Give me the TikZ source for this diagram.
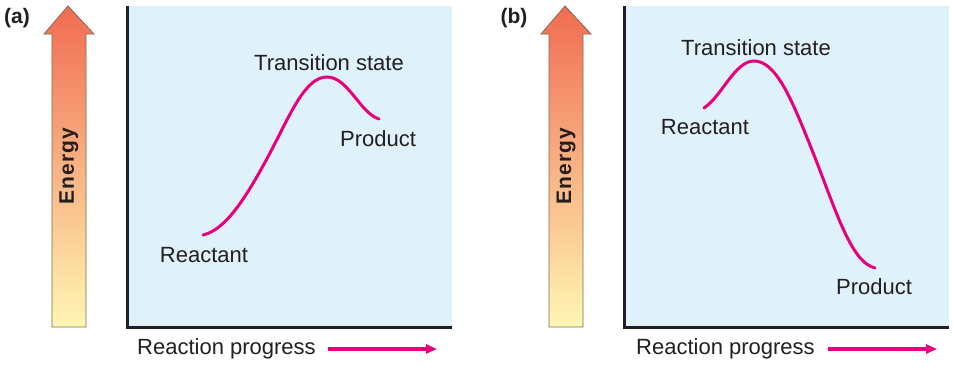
\documentclass[tikz,border=0pt]{standalone}
\usepackage{fontspec}
\setmainfont{Liberation Sans}
\usetikzlibrary{arrows.meta}
\definecolor{boxblue}{RGB}{223,241,251}
\definecolor{curvemag}{RGB}{230,0,126}
\definecolor{axisdark}{RGB}{35,31,32}
\definecolor{entop}{RGB}{241,108,80}
\definecolor{enmid}{RGB}{249,176,122}
\definecolor{enbot}{RGB}{255,246,180}
\definecolor{enedge}{RGB}{125,105,90}
\tikzset{
  lbl/.style={font=\fontsize{22}{26}\selectfont, text=axisdark, inner sep=0pt},
  panellbl/.style={font=\fontsize{21}{24}\selectfont\bfseries, text=axisdark, inner sep=0pt},
  energylbl/.style={font=\fontsize{21}{24}\selectfont\bfseries\addfontfeature{LetterSpace=5}, text=axisdark, inner sep=0pt, rotate=90},
  energyarrow/.style={draw=enedge, line width=0.8pt, top color=entop, middle color=enmid, bottom color=enbot},
  plotbox/.style={fill=boxblue},
  axisline/.style={draw=axisdark, line width=3pt},
  curve/.style={draw=curvemag, line width=3pt, line cap=round},
  progarrow/.style={draw=curvemag, line width=3.4pt, -{Triangle[length=11pt,width=9pt]}}
}
\begin{document}
\begin{tikzpicture}[x=1pt,y=-1pt]
\useasboundingbox (0,0) rectangle (954,367);
% ---------- common parts, panel a and b ----------
\foreach \dx/\tag in {0/a,497/b}{
  \begin{scope}[xshift=\dx pt]
    \node[panellbl] (lbl\tag) at (17,18) {(\tag)};
    \path[energyarrow] (68,6) -- (94,34) -- (86,34) -- (86,327) -- (52,327) -- (52,34) -- (44,34) -- cycle;
    \node[energylbl] (energy\tag) at (69,166) {Energy};
    \fill[plotbox] (127,6) rectangle (452,327);
    \coordinate (top\tag) at (127,6);
    \coordinate (origin\tag) at (127,327);
    \coordinate (right\tag) at (452,327);
    \draw[axisline] (top\tag) -- (origin\tag) -- (right\tag);
  \end{scope}
}
% ---------- panel a ----------
\node[lbl] (tsa) at (329,63) {Transition state};
\node[lbl] (proda) at (378,139) {Product};
\node[lbl] (reaca) at (204,255) {Reactant};
\node[lbl, anchor=west] (rpa) at (137,349) {Reaction progress};
\coordinate (pas) at (328,349);
\coordinate (pae) at (437,349);
\draw[progarrow] (pas) -- (pae);
\coordinate (ra) at (203,235);
\coordinate (ma) at (270,153);
\coordinate (pka) at (327,77);
\coordinate (ea) at (379,119);
\draw[curve] (ra) .. controls (225,230) and (245,200) .. (ma)
  .. controls (290,115) and (305,77) .. (pka)
  .. controls (348,77) and (360,113) .. (ea);
% ---------- panel b ----------
\node[lbl] (tsb) at (756,48) {Transition state};
\node[lbl] (reacb) at (705,127) {Reactant};
\node[lbl] (prodb) at (874,287) {Product};
\node[lbl, anchor=west] (rpb) at (636,349) {Reaction progress};
\coordinate (pbs) at (828,349);
\coordinate (pbe) at (937,349);
\draw[progarrow] (pbs) -- (pbe);
\coordinate (rb) at (704,108);
\coordinate (pkb) at (754,61);
\coordinate (mb) at (810,145);
\coordinate (eb) at (875,268);
\draw[curve] (rb) .. controls (722,96) and (735,61) .. (pkb)
  .. controls (775,61) and (790,95) .. (mb)
  .. controls (835,207) and (850,262) .. (eb);
\end{tikzpicture}
\end{document}
